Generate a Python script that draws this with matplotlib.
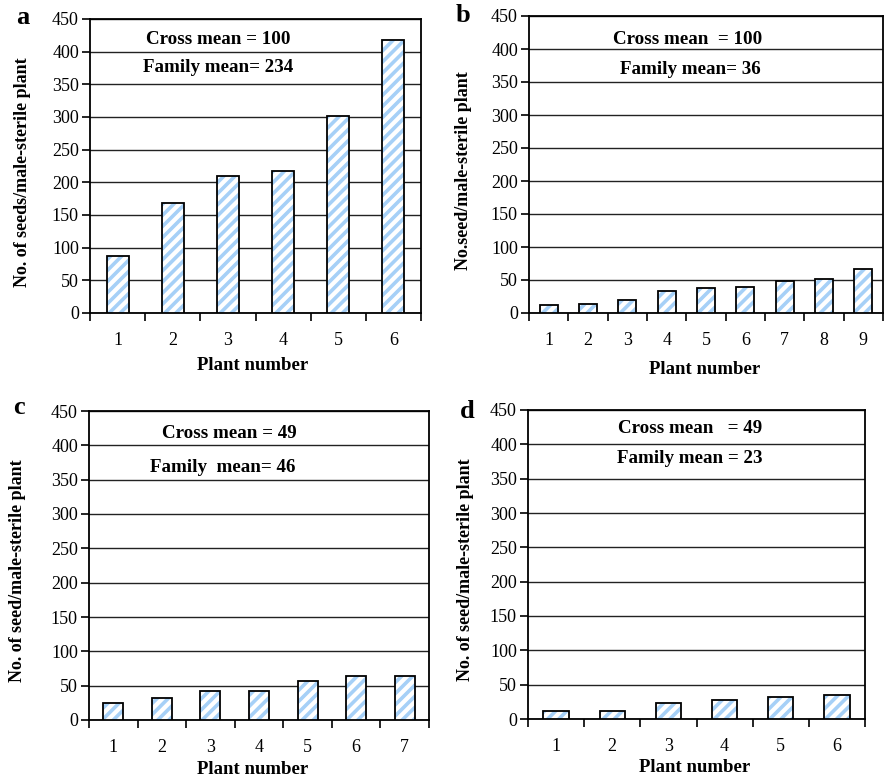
import matplotlib
matplotlib.use('Agg')
import matplotlib.pyplot as plt
import numpy as np

plt.rcParams['font.family'] = ['Liberation Serif', 'DejaVu Serif']
plt.rcParams['hatch.linewidth'] = 2.6

# Seeds per male-sterile plant
seeds_a = [88, 168, 210, 217, 301, 418]
seeds_b = [12, 14, 19, 33, 38, 40, 48, 52, 67]
seeds_c = [25, 32, 42, 42, 57, 64, 64]
seeds_d = [12, 12, 23, 28, 32, 35]

letters = ['a', 'b', 'c', 'd']
ylabels = ['No. of seeds/male-sterile plant',
           'No.seed/male-sterile plant',
           'No. of seed/male-sterile plant',
           'No. of seed/male-sterile plant']
cross_txt = ['Cross mean = 100', 'Cross mean  = 100', 'Cross mean = 49', 'Cross mean   = 49']
family_txt = ['Family mean= 234', 'Family mean= 36', 'Family  mean= 46', 'Family mean = 23']

W, H = 884, 778
fig = plt.figure(figsize=(W / 100, H / 100), dpi=100)

def px(x, y):
    return x / W, 1 - y / H

# axes boxes in pixels: left, top, right, bottom
boxes = [(90, 19, 421, 313), (529, 16, 883, 313), (89, 411, 429, 720), (528, 410, 865, 719)]
widths = [0.4, 0.46, 0.41, 0.45]
letter_pos = [(23, 17), (463, 16), (19, 408), (467, 412)]
ylab_pos = [(23, 172), (463, 171), (18, 571), (465, 570)]
cross_pos = [(218, 40), (688, 39), (229, 434), (690, 429)]
fam_pos = [(218, 68), (690, 69), (223, 467), (690, 458)]
xlab_pos = [(253, 366), (705, 370), (253, 770), (695, 768)]

stripe = '#a6d0f7'
for i, vals in enumerate([seeds_a, seeds_b, seeds_c, seeds_d]):
    l, t, r, b = boxes[i]
    ax = fig.add_axes([l / W, 1 - b / H, (r - l) / W, (b - t) / H])
    x = np.arange(1, len(vals) + 1)
    ax.bar(x, vals, width=widths[i], color='white', edgecolor=stripe, hatch='///', linewidth=0, zorder=3)
    ax.bar(x, vals, width=widths[i], fill=False, edgecolor='black', linewidth=1.3, zorder=4)
    ax.set_xlim(0.5, len(vals) + 0.5)
    ax.set_ylim(0, 450)
    ax.set_yticks(np.arange(0, 451, 50))
    ax.set_xticks(x)
    ax.set_xticks(np.arange(0.5, len(vals) + 1, 1), minor=True)
    ax.tick_params(axis='x', which='major', length=0, pad=14, labelsize=13)
    ax.tick_params(axis='x', which='minor', length=6, width=1.2, direction='out')
    ax.tick_params(axis='y', length=6, width=1.2, direction='out', pad=2, labelsize=13)
    ax.yaxis.grid(True, color='#222222', linewidth=1.0, zorder=1)
    for s in ax.spines.values():
        s.set_linewidth(1.3)

    fig.text(*px(*letter_pos[i]), letters[i], fontsize=19, fontweight='bold', ha='center', va='center')
    fig.text(*px(*ylab_pos[i]), ylabels[i], fontsize=13, fontweight='bold', rotation=90, ha='center', va='center')
    fig.text(*px(*cross_pos[i]), cross_txt[i], fontsize=13.7, fontweight='bold', ha='center', va='center')
    fig.text(*px(*fam_pos[i]), family_txt[i], fontsize=13.7, fontweight='bold', ha='center', va='center')
    fig.text(*px(*xlab_pos[i]), 'Plant number', fontsize=13.5, fontweight='bold', ha='center', va='center')

fig.savefig('out.png', dpi=100)
